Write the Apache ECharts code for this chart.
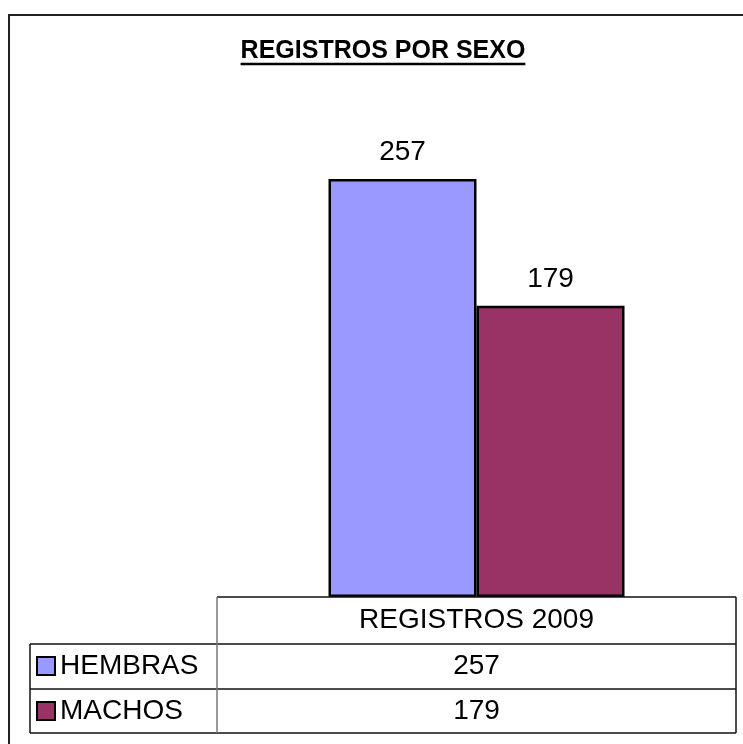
<!DOCTYPE html>
<html lang="es">
<head>
    <meta charset="UTF-8">
    <title>chart</title>
    <script src="https://cdn.jsdelivr.net/npm/echarts@6/dist/echarts.min.js"></script>
    <style>
        html, body {
            margin: 0;
            height: 100%;
            background: #fff;
        }
        #app {
            width: 743px;
            height: 744px;
        }
    </style>
</head>
<body>
<div id="app"></div>
<script>
    var titleText = 'REGISTROS POR SEXO';
    var categories = ['REGISTROS 2009'];
    var seriesNames = ['HEMBRAS', 'MACHOS'];
    var hembras = [257];
    var machos = [179];
    var colors = ['#9999ff', '#993366'];

    var font = '"Liberation Sans", Arial, sans-serif';

    var myChart = echarts.init(document.getElementById('app'));

    // table geometry
    var tLeft = 30, tMid = 217, tRight = 736;
    var rowY = [597, 644, 689, 733];

    function textWidth(txt, f) {
        var ctx = document.createElement('canvas').getContext('2d');
        ctx.font = f;
        return ctx.measureText(txt).width;
    }

    var option = {
        animation: false,
        color: colors,
        grid: {left: 217, right: 7, top: 109, bottom: 147},
        legend: {
            orient: 'vertical',
            left: 36,
            top: 652,
            padding: 0,
            itemWidth: 18,
            itemHeight: 18,
            itemGap: 17,
            itemTextGap: 8,
            icon: 'rect',
            textStyle: {fontFamily: font, fontSize: 28, color: '#000', lineHeight: 28},
            data: seriesNames
        },
        xAxis: {
            type: 'category',
            data: categories,
            axisLine: {show: false},
            axisTick: {show: false},
            axisLabel: {show: false}
        },
        yAxis: {
            type: 'value',
            min: 0,
            max: 300,
            show: false,
            splitLine: {show: false}
        },
        series: [
            {
                name: seriesNames[0],
                type: 'bar',
                data: hembras,
                barWidth: 148,
                barGap: '0%',
                itemStyle: {color: colors[0], borderColor: '#000', borderWidth: 2.5},
                label: {show: true, position: 'top', distance: 13, fontFamily: font, fontSize: 28, color: '#000'}
            },
            {
                name: seriesNames[1],
                type: 'bar',
                data: machos,
                barWidth: 148,
                barGap: '0%',
                itemStyle: {color: colors[1], borderColor: '#000', borderWidth: 2.5},
                label: {show: true, position: 'top', distance: 13, fontFamily: font, fontSize: 28, color: '#000'}
            }
        ]
    };
    myChart.setOption(option);

    var cx = myChart.convertToPixel({xAxisIndex: 0}, categories[0]);
    var titleFont = 'bold 25px ' + font;
    var tw = textWidth(titleText, titleFont);
    var titleX = 383;

    var g = [];
    // outer frame
    g.push({type: 'rect', shape: {x: 9, y: 15, width: 800, height: 800},
        style: {fill: 'none', stroke: '#222', lineWidth: 2}, z: 0});
    // title + underline
    g.push({type: 'text', x: titleX, y: 51, style: {text: titleText, font: titleFont, fill: '#000',
        align: 'center', verticalAlign: 'middle'}});
    g.push({type: 'line', shape: {x1: titleX - tw / 2, y1: 64, x2: titleX + tw / 2, y2: 64},
        style: {stroke: '#000', lineWidth: 2.5}});
    // table lines
    function hline(x1, x2, y, c) {
        g.push({type: 'line', shape: {x1: x1, y1: y, x2: x2, y2: y}, style: {stroke: c || '#111', lineWidth: 1.5}, z: 5});
    }
    function vline(x, y1, y2, c) {
        g.push({type: 'line', shape: {x1: x, y1: y1, x2: x, y2: y2}, style: {stroke: c || '#111', lineWidth: 1.5}, z: 5});
    }
    hline(tMid, tRight, rowY[0]);
    hline(tLeft, tRight, rowY[1]);
    hline(tLeft, tRight, rowY[2]);
    hline(tLeft, tRight, rowY[3]);
    vline(tLeft, rowY[1], rowY[3]);
    vline(tMid, rowY[0], rowY[3], '#777');
    vline(tRight, rowY[0], rowY[3]);
    // table cells
    var cellTexts = [categories[0], String(hembras[0]), String(machos[0])];
    for (var i = 0; i < cellTexts.length; i++) {
        g.push({type: 'text', x: cx, y: (rowY[i] + rowY[i + 1]) / 2,
            style: {text: cellTexts[i], font: '28px ' + font, fill: '#000', align: 'center', verticalAlign: 'middle'}, z: 6});
    }
    myChart.setOption({graphic: g});
</script>
</body>
</html>
